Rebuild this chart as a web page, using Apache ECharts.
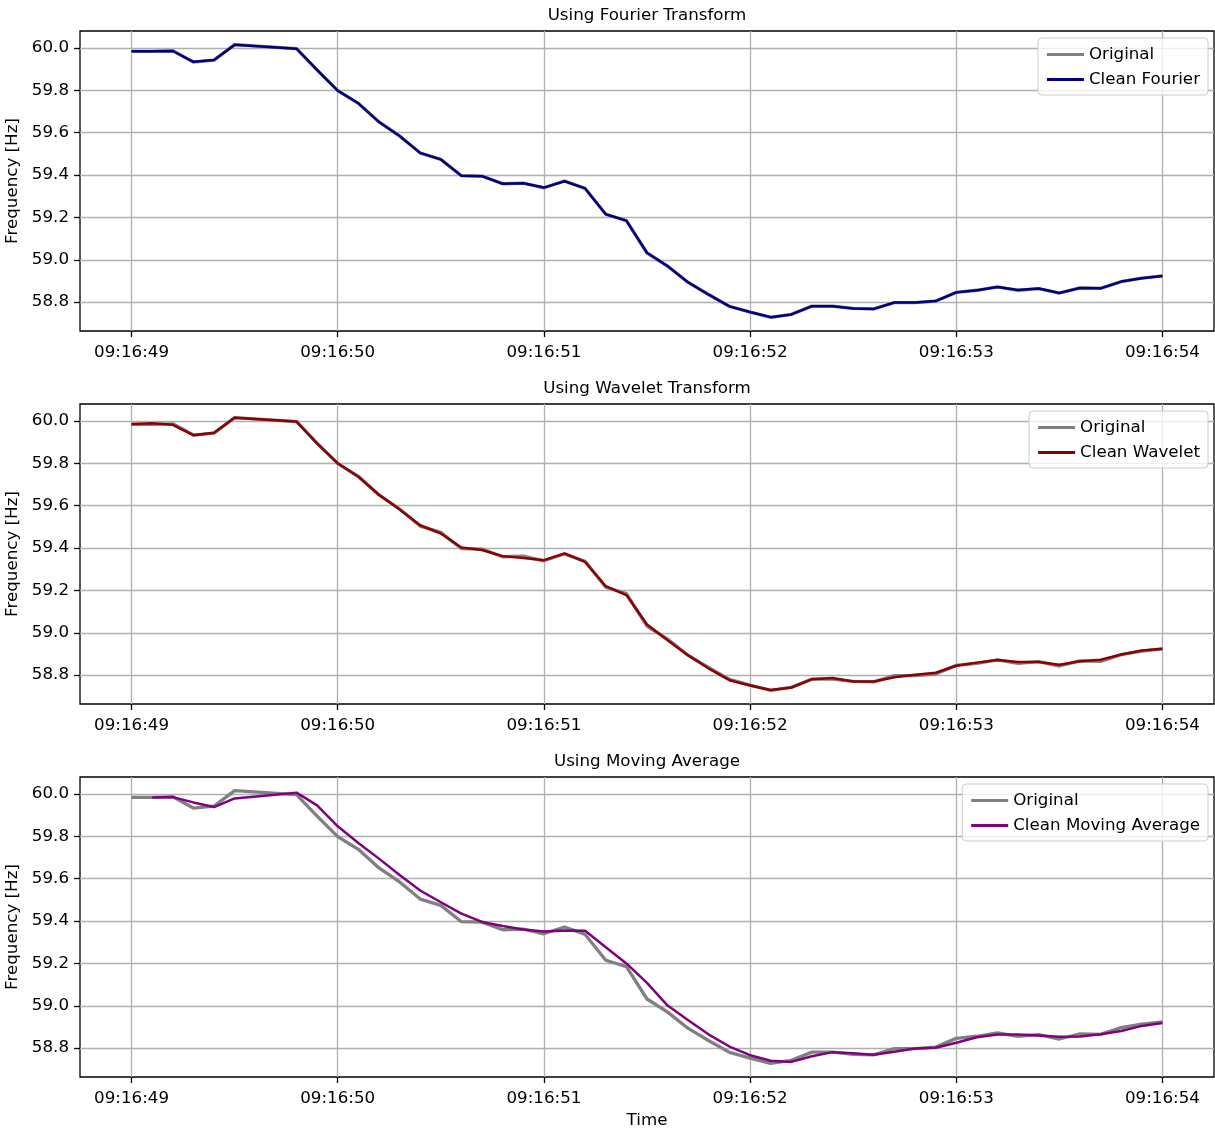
<!DOCTYPE html>
<html>
<head>
<meta charset="utf-8">
<script src="https://cdn.jsdelivr.net/npm/echarts@6/dist/echarts.min.js"></script>
<style>
html,body{margin:0;padding:0;background:#fff;}
#chart{width:1215px;height:1130px;}
</style>
</head>
<body>
<div id="chart"></div>
<script>
// sample times (seconds after 09:16:00); samples 49.6 and 49.7 are absent in the data
const times = [49.0,49.1,49.2,49.3,49.4,49.5,49.8,49.9,
  50.0,50.1,50.2,50.3,50.4,50.5,50.6,50.7,50.8,50.9,
  51.0,51.1,51.2,51.3,51.4,51.5,51.6,51.7,51.8,51.9,
  52.0,52.1,52.2,52.3,52.4,52.5,52.6,52.7,52.8,52.9,
  53.0,53.1,53.2,53.3,53.4,53.5,53.6,53.7,53.8,53.9,
  54.0];

const original = [59.984,59.984,59.987,59.934,59.943,60.016,59.997,59.896,
  59.799,59.739,59.651,59.585,59.504,59.474,59.397,59.395,59.359,59.362,
  59.340,59.372,59.337,59.215,59.185,59.032,58.970,58.893,58.835,58.780,
  58.753,58.728,58.742,58.781,58.781,58.770,58.768,58.798,58.798,58.805,
  58.846,58.856,58.872,58.856,58.864,58.843,58.867,58.865,58.897,58.913,
  58.924];

const cleanFourier = [59.985,59.985,59.986,59.935,59.944,60.015,59.997,59.897,
  59.799,59.739,59.651,59.585,59.505,59.474,59.397,59.395,59.359,59.361,
  59.341,59.371,59.337,59.215,59.185,59.033,58.970,58.893,58.835,58.780,
  58.753,58.729,58.742,58.781,58.781,58.770,58.768,58.798,58.798,58.805,
  58.846,58.856,58.871,58.857,58.864,58.843,58.867,58.865,58.897,58.913,
  58.923];

const cleanWavelet = [59.986,59.990,59.982,59.933,59.945,60.016,59.998,59.893,
  59.801,59.737,59.652,59.582,59.508,59.469,59.403,59.391,59.362,59.353,
  59.343,59.375,59.335,59.220,59.178,59.039,58.965,58.893,58.831,58.776,
  58.751,58.730,58.741,58.781,58.786,58.770,58.770,58.790,58.802,58.811,
  58.844,58.859,58.871,58.862,58.862,58.849,58.865,58.873,58.897,58.916,
  58.925];

const cleanMovingAverage = [null,59.984,59.9855,59.9605,59.9385,59.9795,60.0065,59.9465,
  59.8475,59.769,59.695,59.618,59.5445,59.489,59.4355,59.396,59.377,59.3605,
  59.351,59.356,59.3545,59.276,59.200,59.1085,59.001,58.9315,58.864,58.8075,
  58.7665,58.7405,58.735,58.7615,58.781,58.7755,58.769,58.783,58.798,58.8015,
  58.8255,58.851,58.864,58.864,58.860,58.8535,58.855,58.866,58.881,58.905,
  58.9185];

const xTickValues = [49,50,51,52,53,54];
const xTickLabels = ['09:16:49','09:16:50','09:16:51','09:16:52','09:16:53','09:16:54'];
const yTickValues = [58.8,59.0,59.2,59.4,59.6,59.8,60.0];
const yTickLabels = ['58.8','59.0','59.2','59.4','59.6','59.8','60.0'];

const panelTitles = ['Using Fourier Transform','Using Wavelet Transform','Using Moving Average'];
const cleanNames = ['Clean Fourier','Clean Wavelet','Clean Moving Average'];
const cleanColors = ['#000080','#8b0000','#800080'];
const cleanSets = [cleanFourier, cleanWavelet, cleanMovingAverage];

const FONT = 'DejaVu Sans';
const FS = 16.7;
const tops = [31, 404, 777];
const H = 300, L = 80, W = 1134;

function pairs(vals){ return times.map((t,i)=>[t, vals[i]]); }

const grids = [], xAxes = [], yAxes = [], series = [], legends = [], graphics = [];
tops.forEach((top, p) => {
  grids.push({left:L, top:top, width:W, height:H, show:true, borderColor:'#000', borderWidth:1.3,
    backgroundColor:'transparent', containLabel:false, outerBoundsMode:'none'});
  xAxes.push({
    type:'value', gridIndex:p, min:48.75, max:54.25,
    axisLine:{show:false},
    axisTick:{show:true, inside:false, length:6, lineStyle:{color:'#000', width:1.3}, customValues:xTickValues},
    axisLabel:{show:true, margin:13, color:'#000', fontFamily:FONT, fontSize:FS, customValues:xTickValues,
      formatter:v=>{const i=xTickValues.indexOf(Math.round(v)); return i>=0?xTickLabels[i]:'';}},
    splitLine:{show:true, lineStyle:{color:'#b0b0b0', width:1.3}},
    name: p===2 ? 'Time' : '', nameLocation:'middle', nameGap:35,
    nameTextStyle:{color:'#000', fontFamily:FONT, fontSize:FS}
  });
  yAxes.push({
    type:'value', gridIndex:p, min:58.6636, max:60.0805,
    axisLine:{show:false},
    axisTick:{show:true, inside:false, length:6, lineStyle:{color:'#000', width:1.3}, customValues:yTickValues},
    axisLabel:{show:true, margin:11, color:'#000', fontFamily:FONT, fontSize:FS, customValues:yTickValues,
      formatter:v=>{let i=-1; yTickValues.forEach((t,j)=>{if(Math.abs(t-v)<1e-6)i=j;}); return i>=0?yTickLabels[i]:'';}},
    splitLine:{show:true, lineStyle:{color:'#b0b0b0', width:1.3}},
    name:'Frequency [Hz]', nameLocation:'middle', nameRotate:90, nameGap:49,
    nameTextStyle:{color:'#000', fontFamily:FONT, fontSize:FS}
  });
  series.push({
    type:'line', name:'Original', xAxisIndex:p, yAxisIndex:p, data:pairs(original),
    symbol:'none', showSymbol:false, smooth:false, z:2, animation:false,
    itemStyle:{color:'#808080'},
    lineStyle:{color:'#808080', width:3.3, cap:'butt', join:'round'}
  });
  series.push({
    type:'line', name:cleanNames[p], xAxisIndex:p, yAxisIndex:p, data:pairs(cleanSets[p]),
    symbol:'none', showSymbol:false, smooth:false, z:3, animation:false, connectNulls:false,
    itemStyle:{color:cleanColors[p]},
    lineStyle:{color:cleanColors[p], width:2.5, cap:'butt', join:'round'}
  });
  legends.push({
    data:['Original', cleanNames[p]], orient:'vertical', right:7, top:top+7,
    icon:'rect', itemWidth:37, itemHeight:3, itemGap:8, align:'left',
    padding:[8,8,7,9], borderColor:'#cccccc', borderWidth:1, borderRadius:4,
    backgroundColor:'rgba(255,255,255,0.8)', selectedMode:false,
    textStyle:{color:'#000', fontFamily:FONT, fontSize:FS}
  });
  graphics.push({
    type:'text', x:L+W/2, y:top-15, silent:true,
    style:{text:panelTitles[p], fill:'#000', font:FS+'px "'+FONT+'"', textAlign:'center', textVerticalAlign:'middle'}
  });
});

const chart = echarts.init(document.getElementById('chart'), null, {renderer:'canvas'});
chart.setOption({
  animation:false,
  backgroundColor:'#fff',
  textStyle:{fontFamily:FONT},
  grid:grids, xAxis:xAxes, yAxis:yAxes, series:series, legend:legends, graphic:graphics
});
</script>
</body>
</html>
